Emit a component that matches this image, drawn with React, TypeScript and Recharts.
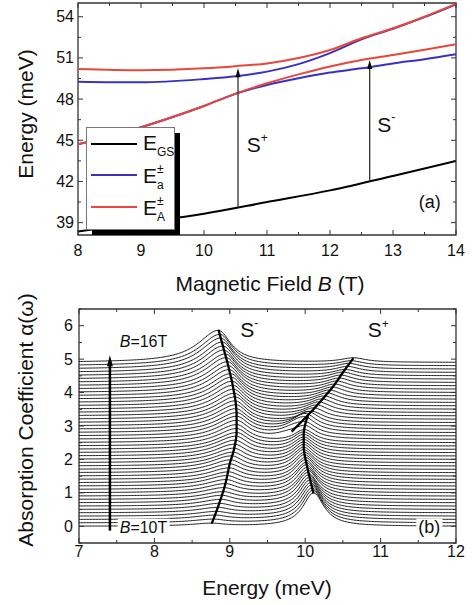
import {
  Legend,
  Line,
  LineChart,
  ReferenceArea,
  ReferenceDot,
  ReferenceLine,
  XAxis,
  YAxis,
} from 'recharts'

const FONT = '"Liberation Sans", Arial, Helvetica, sans-serif'
const INK = '#111'
const FRAME = '#333'
const RED = '#e9473b'
const BLUE = '#3a31c2'

// ---------- panel (a): energy levels vs magnetic field ----------
const fieldTicks = [8, 8.5, 9, 9.5, 10, 10.5, 11, 11.5, 12, 12.5, 13, 13.5, 14]
const energyTicks = [39, 40.5, 42, 43.5, 45, 46.5, 48, 49.5, 51, 52.5, 54]

const groundB = [8, 9, 10, 11, 12, 13, 14]
const groundE = [38.35, 39.0, 39.65, 40.5, 41.35, 42.4, 43.5]

const upperB = [8, 9, 10, 10.5, 11, 11.5, 12, 12.5, 13, 13.5, 14]
const upperBlueE = [49.27, 49.22, 49.46, 49.66, 50.0, 50.55, 51.35, 52.35, 53.12, 53.97, 54.9]
const upperRedE = [50.19, 50.1, 50.24, 50.4, 50.6, 51.0, 51.58, 52.43, 53.16, 54.0, 54.93]

const lowerRedB = [8, 8.5, 9, 9.5, 10, 10.5, 11, 11.5, 12, 12.5, 13, 13.5, 14]
const lowerRedE = [44.7, 45.3, 45.95, 46.7, 47.5, 48.4, 49.15, 49.8, 50.38, 50.85, 51.22, 51.6, 51.99]
const lowerBlueB = [8, 9, 10, 10.5, 11, 11.5, 12, 12.5, 13, 13.5, 14]
const lowerBlueE = [44.7, 45.95, 47.5, 48.38, 49.03, 49.52, 49.93, 50.24, 50.6, 50.9, 51.26]

const transitionB = [10.54, 12.63]
const transitionFrom = [40.11, 42.0]
const transitionTo = [50.25, 50.85]

// ---------- panel (b): absorption spectra, B = 10T ... 16T ----------
const energyAxisTicks = [7, 7.5, 8, 8.5, 9, 9.5, 10, 10.5, 11, 11.5, 12]
const absorptionTicks = [-0.5, 0, 0.5, 1, 1.5, 2, 2.5, 3, 3.5, 4, 4.5, 5, 5.5, 6, 6.5]

const curveOffsets = [
  0, 0.1, 0.2, 0.3, 0.4, 0.5, 0.6, 0.7, 0.8, 0.9,
  1.0, 1.1, 1.2, 1.3, 1.4, 1.5, 1.6, 1.7, 1.8, 1.9,
  2.0, 2.1, 2.2, 2.3, 2.4, 2.5, 2.6, 2.7, 2.8, 2.9,
  3.0, 3.1, 3.2, 3.3, 3.4, 3.5, 3.6, 3.7, 3.8, 3.9,
  4.0, 4.1, 4.2, 4.3, 4.4, 4.5, 4.6, 4.7, 4.8, 4.9,
]
// S- peak, every curve
const sMinusPos = [
  8.76, 8.78, 8.8, 8.82, 8.84, 8.86, 8.88, 8.89, 8.91, 8.92,
  8.94, 8.95, 8.96, 8.98, 8.99, 9.0, 9.01, 9.02, 9.04, 9.05,
  9.06, 9.07, 9.08, 9.09, 9.09, 9.09, 9.09, 9.09, 9.09, 9.08,
  9.08, 9.07, 9.07, 9.06, 9.05, 9.04, 9.03, 9.02, 9.01, 8.99,
  8.98, 8.97, 8.95, 8.94, 8.92, 8.91, 8.9, 8.88, 8.87, 8.85,
]
const sMinusAmp = [
  0.08, 0.1, 0.12, 0.13, 0.15, 0.17, 0.19, 0.21, 0.22, 0.24,
  0.26, 0.28, 0.3, 0.31, 0.33, 0.35, 0.37, 0.39, 0.4, 0.42,
  0.44, 0.46, 0.48, 0.49, 0.51, 0.53, 0.55, 0.57, 0.58, 0.6,
  0.62, 0.64, 0.66, 0.67, 0.69, 0.71, 0.73, 0.75, 0.76, 0.78,
  0.8, 0.82, 0.84, 0.85, 0.87, 0.89, 0.91, 0.93, 0.94, 0.96,
]
// S+ lower branch, curves 0..30
const sPlusPos = [
  10.11, 10.1, 10.09, 10.08, 10.07, 10.06, 10.05, 10.04, 10.03, 10.03,
  10.02, 10.01, 10.01, 10.0, 10.0, 9.99, 9.99, 9.98, 9.98, 9.98,
  9.98, 9.98, 9.98, 9.98, 9.98, 9.99, 10.0, 10.01, 10.02, 10.03,
  10.04,
]
const sPlusAmp = [
  1.0, 0.98, 0.95, 0.93, 0.9, 0.88, 0.85, 0.83, 0.8, 0.78,
  0.75, 0.73, 0.7, 0.68, 0.65, 0.63, 0.6, 0.58, 0.55, 0.53,
  0.5, 0.48, 0.45, 0.43, 0.4, 0.37, 0.34, 0.3, 0.25, 0.18,
  0.1,
]
// S+ upper branch, curves 26..49
const UPPER_FROM = 26
const sUpperPos = [
  9.78, 9.84, 9.91, 9.97, 10.03, 10.08, 10.11, 10.15, 10.18, 10.22,
  10.25, 10.29, 10.32, 10.36, 10.39, 10.42, 10.45, 10.47, 10.5, 10.53,
  10.56, 10.58, 10.61, 10.64,
]
const sUpperAmp = [
  0.12, 0.18, 0.24, 0.28, 0.31, 0.32, 0.32, 0.31, 0.3, 0.29,
  0.28, 0.27, 0.26, 0.25, 0.24, 0.23, 0.22, 0.21, 0.2, 0.18,
  0.17, 0.16, 0.14, 0.13,
]

// peak-maximum guide lines
const leftLocus = [
  [8.76, 0.08], [8.87, 0.75], [8.95, 1.35], [9.0, 1.88], [9.06, 2.35], [9.09, 2.78],
  [9.09, 3.4], [9.05, 4.08], [8.99, 4.7], [8.92, 5.3], [8.85, 5.88],
]
const lowerRightLocus = [
  [10.11, 0.98], [10.06, 1.45], [10.01, 1.95], [9.98, 2.35], [9.98, 2.78], [10.0, 3.05], [10.04, 3.3],
]
const upperRightLocus = [
  [9.82, 2.83], [10.06, 3.38], [10.22, 3.78], [10.37, 4.18], [10.5, 4.6], [10.64, 5.03],
]

const zip = (xs: number[], ys: number[]) => xs.map((x, i) => ({ x, y: ys[i] }))
const pts = (rows: number[][]) => rows.map(([x, y]) => ({ x, y }))

const energyGrid: number[] = []
for (let k = 0; k <= 250; k++) energyGrid.push(7 + k * 0.02)

const peak = (e: number, c: number, a: number, gl: number, gr: number) =>
  a / (1 + ((e - c) / (e < c ? gl : gr)) ** 2)

const spectra = curveOffsets.map((off, i) =>
  energyGrid.map((e) => {
    let v = off + peak(e, sMinusPos[i], sMinusAmp[i], 0.33, 0.2)
    if (i < sPlusPos.length) v += peak(e, sPlusPos[i], sPlusAmp[i], 0.17, 0.17)
    const j = i - UPPER_FROM
    if (j >= 0) v += peak(e, sUpperPos[j], sUpperAmp[j], 0.2, 0.2)
    return { x: e, y: v }
  }),
)

type Box = { left: number; right: number; top: number; bottom: number }
const boxA: Box = { left: 78, right: 456, top: 3, bottom: 235 }
const boxB: Box = { left: 79, right: 456, top: 19, bottom: 253 }

const near = (a: number, b: number) => Math.abs(a - b) < 1e-6

function xTick(box: Box, labelY: number, isMajor: (v: number) => boolean) {
  return (props: any) => {
    const { x, payload } = props
    const v = payload.value as number
    const major = isMajor(v)
    const len = major ? 5 : 3
    return (
      <g>
        <line x1={x} x2={x} y1={box.bottom} y2={box.bottom - len} stroke={FRAME} />
        <line x1={x} x2={x} y1={box.top} y2={box.top + len} stroke={FRAME} />
        {major && (
          <text x={x} y={labelY} textAnchor="middle" fontSize={16} fontFamily={FONT} fill={INK}>
            {v}
          </text>
        )}
      </g>
    )
  }
}

function yTick(box: Box, labelX: number, isMajor: (v: number) => boolean) {
  return (props: any) => {
    const { y, payload } = props
    const v = payload.value as number
    const major = isMajor(v)
    const len = major ? 5 : 3
    return (
      <g>
        <line x1={box.left} x2={box.left + len} y1={y} y2={y} stroke={FRAME} />
        <line x1={box.right} x2={box.right - len} y1={y} y2={y} stroke={FRAME} />
        {major && (
          <text x={labelX} y={y + 5.5} textAnchor="end" fontSize={16} fontFamily={FONT} fill={INK}>
            {v}
          </text>
        )}
      </g>
    )
  }
}

// axis title at a fixed spot; ignores the props Recharts injects
function Title({ tx, ty, rot, children }: { tx: number; ty: number; rot?: boolean; children: any }) {
  return (
    <text
      x={tx}
      y={ty}
      transform={rot ? `rotate(-90 ${tx} ${ty})` : undefined}
      textAnchor="middle"
      fontSize={21}
      fontFamily={FONT}
      fill={INK}
    >
      {children}
    </text>
  )
}

const legendRows = [
  { color: '#000', sup: '', sub: 'GS' },
  { color: BLUE, sup: '±', sub: 'a' },
  { color: RED, sup: '±', sub: 'A' },
]
const legendLineY = [17, 48, 80]
const legendTextY = [23, 56, 88]

function LegendBox() {
  return (
    <svg width={96} height={110} style={{ display: 'block' }}>
      <rect x={6} y={6} width={88} height={102} fill="#000" />
      <rect x={0.5} y={0.5} width={88} height={102} fill="#fff" stroke="#777" />
      {legendRows.map((r, k) => (
        <g key={k} fontFamily={FONT} fill={INK}>
          <line x1={5} x2={51} y1={legendLineY[k]} y2={legendLineY[k]} stroke={r.color} strokeWidth={2} />
          <text x={57} y={legendTextY[k]} fontSize={21}>E</text>
          {r.sup && (
            <text x={71} y={legendTextY[k] - 10} fontSize={12}>
              {r.sup}
            </text>
          )}
          <text x={71} y={legendTextY[k] + 6} fontSize={12}>
            {r.sub}
          </text>
        </g>
      ))}
    </svg>
  )
}

const label = (content: (cx: number, cy: number) => any) => (p: any) => content(p.cx, p.cy)

const arrowHead = (w: number, h: number) => (p: any) => (
  <path d={`M${p.cx},${p.cy} L${p.cx - w / 2},${p.cy + h} L${p.cx + w / 2},${p.cy + h} Z`} fill="#000" />
)

export default function App() {
  return (
    <div style={{ position: 'absolute', left: 0, top: 0, width: 473, height: 605, background: '#fff' }}>
      <div style={{ position: 'absolute', left: 0, top: 0 }}>
        <LineChart width={473} height={300} margin={{ top: 3, right: 17, bottom: 35, left: 18 }}>
          <XAxis
            type="number"
            dataKey="x"
            domain={[8, 14]}
            allowDataOverflow
            ticks={fieldTicks}
            interval={0}
            height={30}
            axisLine={false}
            tickLine={false}
            tick={xTick(boxA, 256, (v) => Number.isInteger(v))}
            label={
              <Title tx={270} ty={291}>
                Magnetic Field <tspan fontStyle="italic">B</tspan> (T)
              </Title>
            }
          />
          <YAxis
            type="number"
            dataKey="y"
            domain={[38.1, 55]}
            allowDataOverflow
            ticks={energyTicks}
            interval={0}
            width={60}
            axisLine={false}
            tickLine={false}
            tick={yTick(boxA, 74, (v) => near((v - 39) / 3, Math.round((v - 39) / 3)))}
            label={
              <Title tx={33} ty={114} rot>
                Energy (meV)
              </Title>
            }
          />
          <ReferenceArea x1={8} x2={14} y1={38.1} y2={55} fill="none" stroke={FRAME} strokeWidth={1.3} />
          <Line data={zip(upperB, upperBlueE)} dataKey="y" type="monotone" stroke={BLUE} strokeWidth={2} dot={false} isAnimationActive={false} />
          <Line data={zip(lowerBlueB, lowerBlueE)} dataKey="y" type="monotone" stroke={BLUE} strokeWidth={2} dot={false} isAnimationActive={false} />
          <Line data={zip(upperB, upperRedE)} dataKey="y" type="monotone" stroke={RED} strokeWidth={2} dot={false} isAnimationActive={false} />
          <Line data={zip(lowerRedB, lowerRedE)} dataKey="y" type="monotone" stroke={RED} strokeWidth={2} dot={false} isAnimationActive={false} />
          <Line data={zip(groundB, groundE)} dataKey="y" type="monotone" stroke="#000" strokeWidth={2} dot={false} isAnimationActive={false} />
          {transitionB.map((b, k) => (
            <ReferenceLine
              key={`t${k}`}
              segment={[
                { x: b, y: transitionFrom[k] },
                { x: b, y: transitionTo[k] - 0.4 },
              ]}
              stroke="#333"
              strokeWidth={1.3}
            />
          ))}
          {transitionB.map((b, k) => (
            <ReferenceDot key={`h${k}`} x={b} y={transitionTo[k]} r={0} shape={arrowHead(5, 9)} />
          ))}
          <ReferenceDot
            x={10.68}
            y={44.15}
            r={0}
            shape={label((cx, cy) => (
              <text x={cx} y={cy} fontSize={21} fontFamily={FONT} fill={INK}>
                S<tspan dy={-10} fontSize={12}>+</tspan>
              </text>
            ))}
          />
          <ReferenceDot
            x={12.75}
            y={45.6}
            r={0}
            shape={label((cx, cy) => (
              <text x={cx} y={cy} fontSize={21} fontFamily={FONT} fill={INK}>
                S<tspan dy={-11} fontSize={12}>-</tspan>
              </text>
            ))}
          />
          <ReferenceDot
            x={13.41}
            y={40.07}
            r={0}
            shape={label((cx, cy) => (
              <text x={cx} y={cy} fontSize={18} fontFamily={FONT} fill={INK}>
                (a)
              </text>
            ))}
          />
          <Legend
            layout="vertical"
            align="center"
            verticalAlign="middle"
            content={() => <LegendBox />}
            wrapperStyle={{ left: 86, top: 127, width: 96, height: 110 }}
          />
        </LineChart>
      </div>

      <div style={{ position: 'absolute', left: 0, top: 290 }}>
        <LineChart width={473} height={315} margin={{ top: 19, right: 17, bottom: 32, left: 19 }}>
          <XAxis
            type="number"
            dataKey="x"
            domain={[7, 12]}
            allowDataOverflow
            ticks={energyAxisTicks}
            interval={0}
            height={30}
            axisLine={false}
            tickLine={false}
            tick={xTick(boxB, 267, (v) => Number.isInteger(v))}
            label={
              <Title tx={267} ty={305}>
                Energy (meV)
              </Title>
            }
          />
          <YAxis
            type="number"
            dataKey="y"
            domain={[-0.5, 6.5]}
            allowDataOverflow
            ticks={absorptionTicks}
            interval={0}
            width={60}
            axisLine={false}
            tickLine={false}
            tick={yTick(boxB, 73, (v) => Number.isInteger(v))}
            label={
              <Title tx={33} ty={130} rot>
                Absorption Coefficient α(ω)
              </Title>
            }
          />
          <ReferenceArea x1={7} x2={12} y1={-0.5} y2={6.5} fill="none" stroke={FRAME} strokeWidth={1.3} />
          {spectra.map((curve, i) => (
            <Line
              key={`c${i}`}
              data={curve}
              dataKey="y"
              type="linear"
              stroke="#141414"
              strokeWidth={0.95}
              dot={false}
              isAnimationActive={false}
            />
          ))}
          {[leftLocus, lowerRightLocus, upperRightLocus].map((loc, k) => (
            <Line
              key={`l${k}`}
              data={pts(loc)}
              dataKey="y"
              type="monotone"
              stroke="#000"
              strokeWidth={2.3}
              dot={false}
              isAnimationActive={false}
            />
          ))}
          <ReferenceLine
            segment={[
              { x: 7.41, y: -0.13 },
              { x: 7.41, y: 4.85 },
            ]}
            stroke="#000"
            strokeWidth={2.5}
          />
          <ReferenceDot x={7.41} y={5.12} r={0} shape={arrowHead(6, 11)} />
          <ReferenceDot
            x={9.14}
            y={5.66}
            r={0}
            shape={label((cx, cy) => (
              <text x={cx} y={cy} fontSize={21} fontFamily={FONT} fill={INK}>
                S<tspan dy={-10} fontSize={12}>-</tspan>
              </text>
            ))}
          />
          <ReferenceDot
            x={10.83}
            y={5.66}
            r={0}
            shape={label((cx, cy) => (
              <text x={cx} y={cy} fontSize={21} fontFamily={FONT} fill={INK}>
                S<tspan dy={-9} fontSize={12}>+</tspan>
              </text>
            ))}
          />
          <ReferenceDot
            x={7.54}
            y={5.36}
            r={0}
            shape={label((cx, cy) => (
              <text x={cx} y={cy} fontSize={16} fontFamily={FONT} fill={INK}>
                <tspan fontStyle="italic">B</tspan>=16T
              </text>
            ))}
          />
          <ReferenceDot
            x={7.54}
            y={-0.19}
            r={0}
            shape={label((cx, cy) => (
              <g>
                <rect x={cx - 2} y={cy - 14} width={52} height={18} fill="#fff" />
                <text x={cx} y={cy} fontSize={16} fontFamily={FONT} fill={INK}>
                  <tspan fontStyle="italic">B</tspan>=10T
                </text>
              </g>
            ))}
          />
          <ReferenceDot
            x={11.5}
            y={-0.19}
            r={0}
            shape={label((cx, cy) => (
              <g>
                <rect x={cx - 2} y={cy - 14} width={26} height={18} fill="#fff" />
                <text x={cx} y={cy} fontSize={18} fontFamily={FONT} fill={INK}>
                  (b)
                </text>
              </g>
            ))}
          />
        </LineChart>
      </div>
    </div>
  )
}
